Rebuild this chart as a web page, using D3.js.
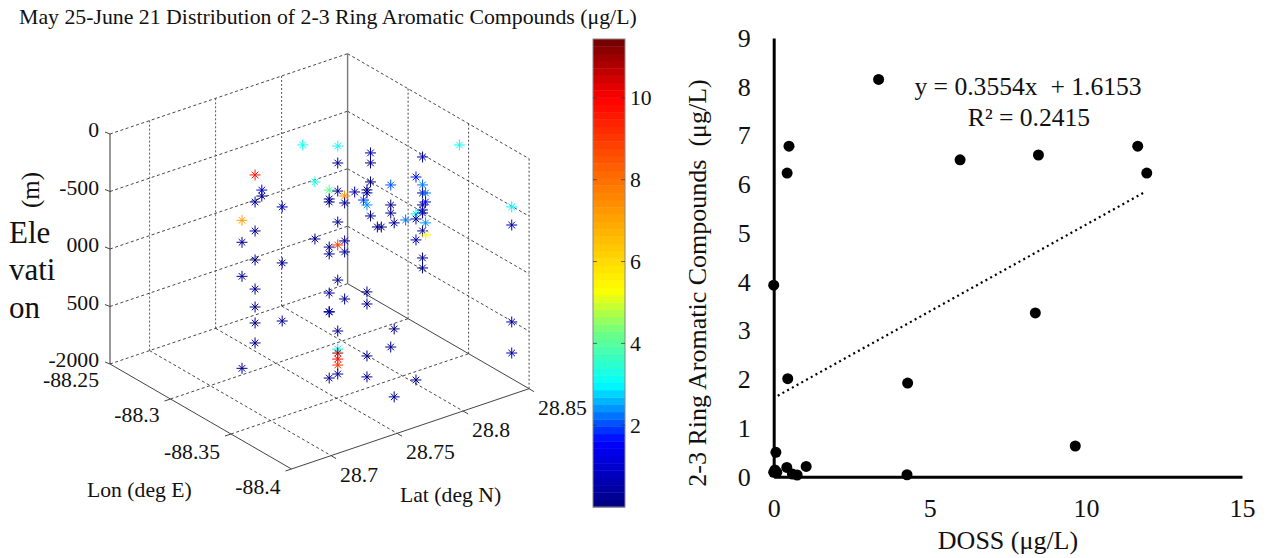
<!DOCTYPE html>
<html lang="en">
  <head>
    <meta charset="UTF-8" />
    <title>2-3 Ring Aromatic Compounds</title>
    <script src="https://cdn.jsdelivr.net/npm/d3@7"></script>
    <style>
      body { margin: 0; background: #fff; }
      svg { display: block; }
      text { font-family: 'Liberation Serif', serif; fill: #111; }
    </style>
  </head>
  <body>
    <div id="chart_svg"></div>
    <script>
      // left panel: sampling stations, one entry per vertical stack of samples
      const stationLon = [-88.31, -88.31, -88.31, -88.325, -88.31, -88.325, -88.35, -88.33, -88.325, -88.325, -88.325, -88.35, -88.325, -88.325, -88.325, -88.35, -88.37, -88.35, -88.37, -88.35, -88.35, -88.36, -88.39]
      const stationLat = [28.715, 28.7249, 28.73, 28.7317, 28.761, 28.7565, 28.7444, 28.7692, 28.779, 28.7866, 28.7933, 28.773, 28.7986, 28.8038, 28.8068, 28.791, 28.7753, 28.8023, 28.7918, 28.8151, 28.8174, 28.8339, 28.846]
      const stationElev = [
        [-560, -751, -1047, -1847],
        [-204, -439, -691, -943, -1196, -1352, -1491, -1665],
        [-355, -407],
        [-417, -904, -1409],
        [-83],
        [-296, -792],
        [-167, -245, -271, -663, -723, -1063, -1228, -1225, -1802],
        [-3, -150, -394, -663, -863, -1168, -1611, -1768, -1803, -1855, -1907, -1985],
        [-505, -566, -896, -992, -1401],
        [-500],
        [-596],
        [-277, -303, -408, -1164, -1269, -1721, -1903],
        [-207, -294, -459, -755],
        [-871],
        [-883],
        [-304, -478, -548, -1713],
        [-451, -1373, -1964],
        [-652],
        [-116, -437, -481, -663, -1881],
        [-154, -397, -467, -571, -615, -641, -797, -1032, -1119],
        [-476, -554, -736, -841],
        [-62],
        [-465, -622, -1465, -1735]
      ]
      const stationConc = [
        [7, 0.2, 0.2, 0.3],
        [9.5, 0.4, 0.3, 0.1, 0.2, 0.1, 0.15, 0.2],
        [1.0, 0.3],
        [0.7, 0.2, 0.3],
        [3.2],
        [3.3, 0.3],
        [4, 0.2, 0.15, 0.15, 0.2, 0.4, 0.3, 0.4, 0.3],
        [3.1, 0.3, 0.3, 0.3, 9, 0.2, 0.2, 3, 11, 10, 9, 0.2],
        [7.5, 0.2, 0.2, 0.3, 0.3],
        [0.7],
        [1.8],
        [0.3, 0.2, 2.4, 0.15, 0.2, 0.2, 0.2],
        [0.4, 0.15, 0.1, 0.15],
        [0.1],
        [0.1],
        [2, 0.15, 0.15, 0.3],
        [0.3, 0.15, 0.2],
        [2.2],
        [1.7, 3, 0.4, 0.7, 0.3],
        [0.6, 2.2, 0.4, 0.3, 0.7, 0.4, 0.4, 0.3, 0.15],
        [2.3, 1.5, 2.4, 5.3],
        [3.1],
        [3, 0.6, 0.4, 0.6]
      ]

      const lonTicks = [-88.25, -88.3, -88.35, -88.4]
      const latTicks = [28.7, 28.75, 28.8, 28.85]
      const elevTicks = [0, -500, -1000, -1500, -2000]
      // the elevation text box covers the first digits of two labels in the original
      const elevLabels = ['0', '-500', '000', '500', '-2000']
      const colorTicks = [2, 4, 6, 8, 10]
      const colorStops = [0, 1.6, 3, 4.3, 5.3, 8, 10, 11.44]
      const colorValues = ['#00007f', '#0000ff', '#00ffff', '#70ff80', '#ffff00', '#ff7000', '#ff0000', '#700000']

      // right panel
      const doss = [3.36, 0.49, 0.43, 5.97, 8.48, 11.66, 11.95, 0, 8.38, 0.45, 4.29, 9.66, 0.07, 1.04, 0.42, 0, 0.1, 0.04, 0.6, 0.75, 4.27]
      const aromatics = [8.15, 6.78, 6.23, 6.5, 6.6, 6.78, 6.23, 3.93, 3.36, 2.01, 1.92, 0.63, 0.5, 0.21, 0.19, 0.09, 0.09, 0.14, 0.055, 0.035, 0.04]
      const trendSlope = 0.3554
      const trendIntercept = 1.6153
      const trendRange = [0.13, 11.88]

      const svg = d3.select('#chart_svg').append('svg').attr('width', 1267).attr('height', 558)

      // ---- left panel: fixed oblique 3d view built from one scale per screen direction
      const lonMin = -88.25, lonMax = -88.4, latMin = 28.67, latMax = 28.85
      const xLon = d3.scaleLinear().domain([lonMin, lonMax]).range([0, 181.5])
      const yLon = d3.scaleLinear().domain([lonMin, lonMax]).range([0, 105])
      const xLat = d3.scaleLinear().domain([latMin, latMax]).range([0, 237.6])
      const yLat = d3.scaleLinear().domain([latMin, latMax]).range([0, -80.3])
      const yElev = d3.scaleLinear().domain([-2000, 0]).range([364, 134])
      const project = (lon, lat, elev) => [110 + xLon(lon) + xLat(lat), yElev(elev) + yLon(lon) + yLat(lat)]

      const box = svg.append('g').attr('fill', 'none')
      const seg = (a, b, stroke, width, dash) =>
        box.append('path')
          .attr('d', d3.line()([project(...a), project(...b)]))
          .attr('stroke', stroke)
          .attr('stroke-width', width)
          .attr('stroke-dasharray', dash)

      const dashH = '3 2.5', dashV = '2 2'
      const innerLat = latTicks.slice(0, 3)
      const innerLon = lonTicks.slice(1, 3)
      elevTicks.forEach(z => {
        if (z === -2000) return
        seg([lonMin, latMin, z], [lonMin, latMax, z], '#333', 0.9, dashH)
        seg([lonMin, latMax, z], [lonMax, latMax, z], '#333', 0.9, dashH)
      })
      innerLat.forEach(lat => {
        seg([lonMin, lat, 0], [lonMin, lat, -2000], '#555', 1, dashV)
        seg([lonMin, lat, -2000], [lonMax, lat, -2000], '#333', 0.9, dashH)
      })
      innerLon.forEach(lon => {
        seg([lon, latMax, 0], [lon, latMax, -2000], '#333', 0.9, dashV)
        seg([lon, latMin, -2000], [lon, latMax, -2000], '#333', 0.9, dashH)
      })
      seg([lonMax, latMax, 0], [lonMax, latMax, -2000], '#333', 0.9, dashV)
      seg([lonMin, latMin, -2000], [lonMin, latMax, -2000], '#333', 0.9, dashH)
      seg([lonMin, latMax, 0], [lonMin, latMax, -2000], '#777', 1.4)
      seg([lonMin, latMax, -2000], [lonMax, latMax, -2000], '#444', 1)
      seg([lonMin, latMin, 0], [lonMin, latMin, -2000], '#333', 1)
      seg([lonMin, latMin, -2000], [lonMax, latMin, -2000], '#444', 1)
      seg([lonMax, latMin, -2000], [lonMax, latMax, -2000], '#444', 1)

      // small ticks on the outside of the box
      elevTicks.forEach(z => {
        const [x, y] = project(lonMin, latMin, z)
        box.append('path').attr('d', `M${x},${y}L${x - 5},${y - 2}`).attr('stroke', '#444')
      })
      lonTicks.slice(1).forEach(lon => {
        const [x, y] = project(lon, latMin, -2000)
        box.append('path').attr('d', `M${x},${y}L${x - 6},${y + 2}`).attr('stroke', '#444')
      })
      latTicks.forEach(lat => {
        const [x, y] = project(lonMax, lat, -2000)
        box.append('path').attr('d', `M${x},${y}L${x + 5},${y + 3}`).attr('stroke', '#444')
      })

      const addText = (x, y, str, size, anchor = 'start') =>
        svg.append('text').attr('x', x).attr('y', y).attr('font-size', size).attr('text-anchor', anchor).text(str)

      const labelSize = 21.7
      elevTicks.forEach((z, i) => {
        const [x, y] = project(lonMin, latMin, z)
        addText(x - 11, y + 3, elevLabels[i], labelSize, 'end')
      })
      lonTicks.forEach((lon, i) => {
        const [x, y] = project(lon, latMin, -2000)
        addText(x - 11, y + [23, 23, 25, 25][i], lon, labelSize, 'end')
      })
      latTicks.forEach(lat => {
        const [x, y] = project(lonMax, lat, -2000)
        addText(x + 9, y + 26, lat, labelSize)
      })

      addText(19, 24, 'May 25-June 21 Distribution of 2-3 Ring Aromatic Compounds (μg/L)', 21.8)
      addText(87, 497, 'Lon (deg E)', labelSize)
      addText(400, 502, 'Lat (deg N)', labelSize)
      addText(9, 243, 'Ele', 31)
      addText(9, 280, 'vati', 31)
      addText(9, 318, 'on', 31)
      svg.append('text').attr('transform', 'translate(39,190) rotate(-90)').attr('font-size', 25).attr('text-anchor', 'middle').text('(m)')

      // color scale banded the way the original colorbar is
      const smooth = d3.scaleLinear().domain(colorStops).range(colorValues)
      const bands = d3.range(64).map(i => smooth((i + 0.5) / 64 * 11.44))
      const color = d3.scaleQuantize().domain([0, 11.44]).range(bands)

      const asterisk = {
        draw(ctx, size) {
          const r = Math.sqrt(size)
          const c = r * 0.6
          ctx.moveTo(-r, 0); ctx.lineTo(r, 0)
          ctx.moveTo(0, -r); ctx.lineTo(0, r)
          ctx.moveTo(-c, -c); ctx.lineTo(c, c)
          ctx.moveTo(-c, c); ctx.lineTo(c, -c)
        }
      }
      const samples = stationElev.flatMap((elevs, s) =>
        elevs.map((elev, j) => ({ lon: stationLon[s], lat: stationLat[s], elev, conc: stationConc[s][j] }))
      )
      svg.append('g').attr('fill', 'none').selectAll('path').data(samples).join('path')
        .attr('d', d3.symbol(asterisk, 30))
        .attr('transform', d => `translate(${project(d.lon, d.lat, d.elev)})`)
        .attr('stroke', d => color(d.conc))
        .attr('stroke-width', 1)

      // colorbar
      const yBar = d3.scaleLinear().domain([0, 11.44]).range([507, 39])
      svg.append('g').selectAll('rect').data(bands).join('rect')
        .attr('x', 593)
        .attr('width', 32)
        .attr('y', (d, i) => yBar((i + 1) / 64 * 11.44))
        .attr('height', 468 / 64 + 0.4)
        .attr('fill', d => d)
      svg.append('rect').attr('x', 593).attr('y', 39).attr('width', 32).attr('height', 468)
        .attr('fill', 'none').attr('stroke', '#888').attr('stroke-width', 1)
      colorTicks.forEach(t => {
        const y = yBar(t)
        svg.append('path').attr('d', `M593,${y}h4M625,${y}h-4`).attr('stroke', '#333').attr('opacity', 0.7)
        addText(630, y + 7.5, t, labelSize)
      })

      // ---- right panel: scatter with linear trend
      const x = d3.scaleLinear().domain([0, 15]).range([773.7, 1242])
      const y = d3.scaleLinear().domain([0, 9]).range([476.7, 38])

      const styleAxis = g => {
        g.select('.domain').attr('stroke', '#000').attr('stroke-width', 3)
        g.selectAll('text').attr('font-size', 26).attr('fill', '#111')
          .attr('font-family', "'Liberation Serif', serif")
      }
      svg.append('g').attr('transform', `translate(${x(0)},0)`)
        .call(d3.axisLeft(y).ticks(9).tickSize(0).tickPadding(23))
        .call(styleAxis)
      svg.append('g').attr('transform', `translate(0,${y(0)})`)
        .call(d3.axisBottom(x).tickValues([0, 5, 10, 15]).tickSize(0).tickPadding(22))
        .call(styleAxis)

      svg.append('path')
        .attr('d', d3.line()(trendRange.map(v => [x(v), y(trendSlope * v + trendIntercept)])))
        .attr('fill', 'none')
        .attr('stroke', '#000')
        .attr('stroke-width', 2.2)
        .attr('stroke-dasharray', '2 3.4')

      svg.append('g').selectAll('circle').data(doss).join('circle')
        .attr('cx', d => x(d))
        .attr('cy', (d, i) => y(aromatics[i]))
        .attr('r', 5.5)
        .attr('fill', '#000')

      addText(1028, 95, 'y = 0.3554x  + 1.6153', 25.6, 'middle').attr('xml:space', 'preserve')
      addText(1029, 125.5, 'R² = 0.2415', 25.6, 'middle')
      addText(1008, 549, 'DOSS (μg/L)', 26, 'middle')
      svg.append('text').attr('transform', 'translate(706,283) rotate(-90)')
        .attr('font-size', 26).attr('text-anchor', 'middle').attr('xml:space', 'preserve')
        .text('2-3 Ring Aromatic Compounds  (μg/L)')
    </script>
  </body>
</html>
